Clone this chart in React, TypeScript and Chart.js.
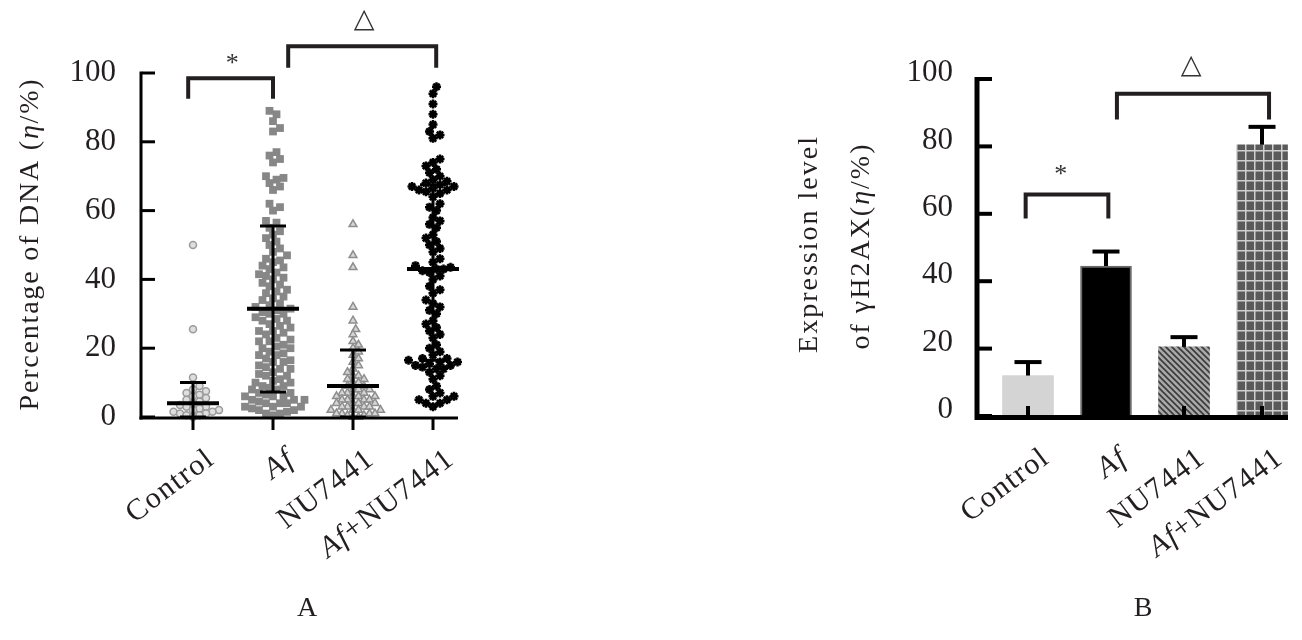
import React, { useEffect, useRef } from "react";
import { Chart, registerables } from "chart.js";
Chart.register(...registerables);

// ---------- data ----------
const categories = ["Control", "Af", "NU7441", "Af+NU7441"];
const yTickValues = [0, 20, 40, 60, 80, 100];

// Panel A: percentage of DNA in tail, individual cells
const controlValues = [50, 25.5, 11.5, 9, 8, 7.5, 7, 6.5, 6, 5.5, 5, 4.5, 4, 3.5, 3, 3, 2.5, 2, 2, 1.5, 1.5, 1, 1, 0.5, 0.5, 0];
const afValues = [89, 88, 86, 84, 83, 77, 76, 75, 74, 70, 69.5, 69, 68, 67, 66, 62, 61, 60, 57, 56.5, 55, 54, 53, 52, 51, 50, 49, 48, 47, 46, 45.5, 45, 44, 43.5, 43, 42, 41.5, 41, 40.5, 40, 39, 38.5, 38, 37, 36.5, 36, 35, 34.5, 34, 33, 32.5, 32, 31.5, 31, 30.5, 30, 30, 29, 28.5, 28, 28, 27, 26.5, 26, 25, 25, 24.5, 24, 23, 22.5, 22, 22, 21, 20.5, 20, 20, 19, 18.5, 18, 18, 17, 16.5, 16, 16, 15, 14.5, 14, 14, 13, 12.5, 12, 12, 11, 10.5, 10, 10, 9, 9, 8.5, 8, 8, 7, 7, 6.5, 6, 6, 6, 5, 5, 5, 4.5, 4, 4, 4, 3, 3, 3, 2.5, 2, 2, 1.5, 1, 1, 0.5];
const nuValues = [56, 47, 43.5, 32, 28, 25.5, 24, 22, 21, 20, 19, 18, 17, 16, 15, 14, 13, 12, 12, 11, 11, 10, 10, 9, 9, 8, 8, 8, 7, 7, 7, 6, 6, 6, 6, 5, 5, 5, 5, 4, 4, 4, 4, 3, 3, 3, 3, 2, 2, 2, 2, 1, 1, 1, 1, 0.5, 0.5, 0, 0];
const afNuValues = [96, 94, 91, 88, 85, 83, 82, 81, 75, 74, 73, 72, 71, 70, 69, 68.5, 68, 67.5, 67, 67, 66.5, 66, 66, 65.5, 65, 64, 62, 61, 60, 58, 57, 56, 55, 53, 52, 51, 50, 49, 48, 46, 45, 44, 43.5, 43, 43, 42.5, 42, 41, 40, 38, 37, 36, 34, 33, 32, 31, 30, 28, 27, 26, 25, 24, 23, 21, 20, 19, 18, 17, 17, 16.5, 16, 16, 15.5, 15, 15, 14.5, 14, 14, 13, 12, 11, 9, 8, 7, 6, 6, 5, 5, 4, 4, 3];
const scatterMeans = [4, 31.5, 9, 43];
const scatterSdUpper = [10, 55.5, 19.5, 67.5];
const scatterSdLower = [0, 7.3, 0, 16.5];

// Panel B: expression of gamma-H2AX
const barValues = [12, 44.5, 20.5, 80.5];
const barErrUpper = [16, 48.8, 23.4, 85.8];

// significance brackets: [from, to, top, leg bottom, label, label y, label x]
const bracketsA = [
  [-0.06, 1.0, 98.5, 92.5, "*", 104.5, 0.49],
  [1.19, 3.04, 107.8, 101.5, "\u25B3", 116, 2.14],
];
const bracketsB = [
  [-0.03, 1.03, 65.7, 58.6, "*", 73.4, 0.42],
  [1.14, 3.09, 95.6, 88, "\u25B3", 104.4, 2.09],
];

// ---------- helpers ----------
const SERIF = '"Liberation Serif", "Times New Roman", Times, serif';
const INK = "#231f20";

function beeswarm(values: number[], center: number, pxX: number, pxY: number, size: number) {
  const order = values.map((v, i) => ({ v, i })).sort((a, b) => a.v - b.v);
  const placed: { x: number; y: number }[] = [];
  const out: { x: number; y: number }[] = new Array(values.length);
  for (const { v, i } of order) {
    const py = v * pxY;
    let off = 0;
    for (let step = 0; step < 60; step++) {
      const k = Math.ceil(step / 2) * (step % 2 === 1 ? 1 : -1);
      const cand = k * (size / 2);
      const ok = placed.every((p) => Math.hypot(p.x - cand, p.y - py) >= size);
      if (ok) { off = cand; break; }
    }
    placed.push({ x: off, y: py });
    out[i] = { x: center + off / pxX, y: v };
  }
  return out;
}

function segmentsFor(label: string): [string, boolean][] {
  if (label.startsWith("Af")) {
    const rest = label.slice(2);
    return rest ? [["Af", true], [rest, false]] : [["Af", true]];
  }
  return [[label, false]];
}

function setFont(ctx: any, size: number, italic: boolean, spacing = 0) {
  ctx.font = `${italic ? "italic " : ""}${size}px ${SERIF}`;
  ctx.letterSpacing = spacing + "px";
}

function drawSegments(ctx: any, segs: [string, boolean][], size: number, spacing: number, align: "right" | "center") {
  const widths = segs.map(([t, it]) => { setFont(ctx, size, it, spacing); return ctx.measureText(t).width; });
  const total = widths.reduce((a, b) => a + b, 0);
  let x = align === "right" ? -total : -total / 2;
  ctx.textAlign = "left";
  segs.forEach(([t, it], k) => { setFont(ctx, size, it, spacing); ctx.fillText(t, x, 0); x += widths[k]; });
}

function drawXLabels(ctx: any, xs: any, dx: number, baseY: number) {
  categories.forEach((c, i) => {
    ctx.save();
    ctx.translate(xs.getPixelForValue(i) + dx, baseY);
    ctx.rotate(-37 * Math.PI / 180);
    ctx.fillStyle = INK;
    ctx.textBaseline = "alphabetic";
    drawSegments(ctx, segmentsFor(c), 30, 1.5, "right");
    ctx.restore();
  });
}

function drawBrackets(ctx: any, xs: any, ys: any, list: any[], lw: number) {
  list.forEach(([a, b, top, bot, label, ly, lx]) => {
    const x1 = xs.getPixelForValue(a), x2 = xs.getPixelForValue(b);
    const yt = ys.getPixelForValue(top), yb = ys.getPixelForValue(bot);
    ctx.strokeStyle = INK; ctx.lineWidth = lw; ctx.lineCap = "butt"; ctx.lineJoin = "miter";
    ctx.beginPath(); ctx.moveTo(x1, yb); ctx.lineTo(x1, yt); ctx.lineTo(x2, yt); ctx.lineTo(x2, yb); ctx.stroke();
    const cy = ys.getPixelForValue(ly);
    const cx = xs.getPixelForValue(lx);
    ctx.fillStyle = "#333"; ctx.textAlign = "center"; ctx.textBaseline = "alphabetic";
    ctx.letterSpacing = "0px";
    if (label === "*") { ctx.font = `26px ${SERIF}`; ctx.fillText(label, cx, cy + 13); }
    else { ctx.font = `27px "DejaVu Sans", sans-serif`; ctx.fillText(label, cx, cy + 9); }
  });
}

function drawTitleLine(ctx: any, segs: [string, boolean][], cx: number, cy: number, size: number, spacing: number) {
  ctx.save();
  ctx.translate(cx, cy);
  ctx.rotate(-Math.PI / 2);
  ctx.fillStyle = INK;
  ctx.textBaseline = "middle";
  drawSegments(ctx, segs, size, spacing, "center");
  ctx.restore();
}

// ---------- plugins ----------
const panelAPlugin = {
  id: "panelA",
  afterDatasetsDraw(chart: any) {
    const { ctx, chartArea: ca, scales } = chart;
    const xs = scales.x, ys = scales.y;
    ctx.save();
    ctx.strokeStyle = "#000";
    categories.forEach((_, i) => {
      const cx = xs.getPixelForValue(i);
      const ym = ys.getPixelForValue(scatterMeans[i]);
      const yu = ys.getPixelForValue(scatterSdUpper[i]);
      const yl = ys.getPixelForValue(scatterSdLower[i]);
      ctx.lineWidth = 3;
      ctx.beginPath(); ctx.moveTo(cx, yu); ctx.lineTo(cx, yl); ctx.stroke();
      ctx.beginPath(); ctx.moveTo(cx - 13, yu); ctx.lineTo(cx + 13, yu); ctx.moveTo(cx - 13, yl); ctx.lineTo(cx + 13, yl); ctx.stroke();
      ctx.lineWidth = 4;
      ctx.beginPath(); ctx.moveTo(cx - 26, ym); ctx.lineTo(cx + 26, ym); ctx.stroke();
    });
    ctx.strokeStyle = "#000"; ctx.lineWidth = 3;
    ctx.beginPath(); ctx.moveTo(ca.left - 1, ys.getPixelForValue(100) - 1.5); ctx.lineTo(ca.left - 1, ca.bottom + 2.5); ctx.stroke();
    ctx.beginPath(); ctx.moveTo(ca.left - 2.5, ca.bottom + 1); ctx.lineTo(ca.right, ca.bottom + 1); ctx.stroke();
    yTickValues.forEach((v) => {
      const py = ys.getPixelForValue(v);
      ctx.beginPath(); ctx.moveTo(ca.left, py); ctx.lineTo(ca.left + 13, py); ctx.stroke();
    });
    categories.forEach((_, i) => {
      const px = xs.getPixelForValue(i);
      ctx.beginPath(); ctx.moveTo(px, ca.bottom + 2); ctx.lineTo(px, ca.bottom + 13); ctx.stroke();
    });
    drawBrackets(ctx, xs, ys, bracketsA, 4);
    drawXLabels(ctx, xs, 23, 462);
    drawTitleLine(ctx, [["Percentage of DNA (", false], ["\u03B7", true], ["/%)", false]], 31, 244, 28, 1.8);
    ctx.fillStyle = INK; ctx.textAlign = "center"; ctx.textBaseline = "alphabetic";
    setFont(ctx, 28, false, 0);
    ctx.fillText("A", 307, 616);
    ctx.restore();
  },
};

const panelBPlugin = {
  id: "panelB",
  afterDatasetsDraw(chart: any) {
    const { ctx, chartArea: ca, scales } = chart;
    const xs = scales.x, ys = scales.y;
    ctx.save();
    ctx.strokeStyle = "#000";
    categories.forEach((_, i) => {
      const cx = xs.getPixelForValue(i);
      const yt = ys.getPixelForValue(barValues[i]);
      const ye = ys.getPixelForValue(barErrUpper[i]);
      ctx.lineWidth = 4;
      ctx.beginPath(); ctx.moveTo(cx, yt); ctx.lineTo(cx, ye); ctx.stroke();
      ctx.beginPath(); ctx.moveTo(cx - 13.5, ye); ctx.lineTo(cx + 13.5, ye); ctx.stroke();
      ctx.beginPath(); ctx.moveTo(cx, ca.bottom); ctx.lineTo(cx, ca.bottom - 10); ctx.stroke();
    });
    ctx.lineWidth = 5;
    ctx.beginPath(); ctx.moveTo(ca.left - 2, ys.getPixelForValue(100) - 2); ctx.lineTo(ca.left - 2, ca.bottom + 4); ctx.stroke();
    ctx.beginPath(); ctx.moveTo(ca.left - 4, ca.bottom + 1.5); ctx.lineTo(ca.right, ca.bottom + 1.5); ctx.stroke();
    ctx.lineWidth = 4;
    yTickValues.forEach((v) => {
      const py = ys.getPixelForValue(v);
      ctx.beginPath(); ctx.moveTo(ca.left, py); ctx.lineTo(ca.left + 13, py); ctx.stroke();
    });
    drawBrackets(ctx, xs, ys, bracketsB, 4);
    drawXLabels(ctx, xs, 23, 461);
    drawTitleLine(ctx, [["Expression level", false]], 810 - 651, 244, 28, 2);
    drawTitleLine(ctx, [["of \u03B3H2AX(", false], ["\u03B7", true], ["/%)", false]], 862 - 651, 246, 28, 2);
    ctx.fillStyle = INK; ctx.textAlign = "center"; ctx.textBaseline = "alphabetic";
    setFont(ctx, 28, false, 0);
    ctx.fillText("B", 1143 - 651, 616);
    ctx.restore();
  },
};

function makePattern(kind: "hatch" | "plaid") {
  const c = document.createElement("canvas");
  const g = c.getContext("2d")!;
  if (kind === "hatch") {
    c.width = 6; c.height = 6;
    g.fillStyle = "#a8a8a8"; g.fillRect(0, 0, 6, 6);
    g.strokeStyle = "#3a3a3a"; g.lineWidth = 1.6;
    g.beginPath();
    g.moveTo(-1, -1); g.lineTo(7, 7);
    g.moveTo(-4, 2); g.lineTo(4, 10);
    g.moveTo(2, -4); g.lineTo(10, 4);
    g.stroke();
  } else {
    c.width = 9; c.height = 10;
    g.fillStyle = "#5a5a5a"; g.fillRect(0, 0, 9, 10);
    g.fillStyle = "#d0d0d0";
    g.fillRect(0, 0, 1.5, 10);
    g.fillRect(0, 0, 9, 1.5);
  }
  return g.createPattern(c, "repeat")!;
}

function yAxis(width: number, labelOffset: number) {
  return {
    type: "linear" as const,
    min: 0,
    max: 100,
    afterBuildTicks: (s: any) => { s.ticks = yTickValues.map((v) => ({ value: v })); },
    afterFit: (s: any) => { s.width = width; },
    grid: { display: false, drawTicks: false },
    border: { display: false },
    ticks: { padding: 26, labelOffset, color: INK, font: { family: SERIF, size: 31 } },
  };
}

export default function App() {
  const refA = useRef<HTMLCanvasElement>(null);
  const refB = useRef<HTMLCanvasElement>(null);

  useEffect(() => {
    const pxX = 80, pxY = 3.44;
    const chartA = new Chart(refA.current!, {
      type: "scatter",
      data: {
        datasets: [
          { data: beeswarm(controlValues, 0, pxX, pxY, 6.5), pointStyle: "circle", radius: 3.5, borderWidth: 1.5, borderColor: "#9b9b9b", backgroundColor: "#dedede", clip: false },
          { data: beeswarm(afValues, 1, pxX, pxY, 7), pointStyle: "rect", radius: 5.5, borderWidth: 0, borderColor: "#878787", backgroundColor: "#878787", clip: false },
          { data: beeswarm(nuValues, 2, pxX, pxY, 5.5), pointStyle: "triangle", radius: 4.5, borderWidth: 1.5, borderColor: "#8e8e8e", backgroundColor: "#d6d6d6", clip: false },
          { data: beeswarm(afNuValues, 3, pxX, pxY, 7), pointStyle: "star", radius: 4.5, borderWidth: 2.5, borderColor: "#000", backgroundColor: "#000", clip: false },
        ] as any,
      },
      options: {
        animation: false,
        responsive: false,
        devicePixelRatio: 1,
        layout: { padding: { left: 0, top: 73, right: 651 - 458, bottom: 640 - 417 } },
        plugins: { legend: { display: false }, tooltip: { enabled: false } },
        scales: {
          x: { type: "linear", display: false, min: -0.6375, max: 3.3125 },
          y: yAxis(142, 0) as any,
        },
      },
      plugins: [panelAPlugin],
    });

    const chartB = new Chart(refB.current!, {
      type: "bar",
      data: {
        datasets: [
          {
            data: barValues.map((v, i) => ({ x: i, y: v })),
            backgroundColor: ["#d4d4d4", "#000000", makePattern("hatch"), makePattern("plaid")] as any,
            borderColor: ["#d4d4d4", "#6a6a6a", "#8a8a8a", "#5c5c5c"],
            borderWidth: [0, 2, 0, 0],
            barThickness: 51,
          } as any,
        ],
      },
      options: {
        animation: false,
        responsive: false,
        devicePixelRatio: 1,
        layout: { padding: { left: 0, top: 79, right: 651 - 637, bottom: 640 - 416 } },
        plugins: { legend: { display: false }, tooltip: { enabled: false } },
        scales: {
          x: { type: "linear", display: false, min: -0.628, max: 3.333, offset: false },
          y: yAxis(979 - 651, -6) as any,
        },
      },
      plugins: [panelBPlugin],
    });

    return () => { chartA.destroy(); chartB.destroy(); };
  }, []);

  return (
    <div style={{ position: "absolute", left: 0, top: 0, width: 1302, height: 640, background: "#fff" }}>
      <canvas ref={refA} width={651} height={640} style={{ position: "absolute", left: 0, top: 0, width: 651, height: 640 }} />
      <canvas ref={refB} width={651} height={640} style={{ position: "absolute", left: 651, top: 0, width: 651, height: 640 }} />
    </div>
  );
}
